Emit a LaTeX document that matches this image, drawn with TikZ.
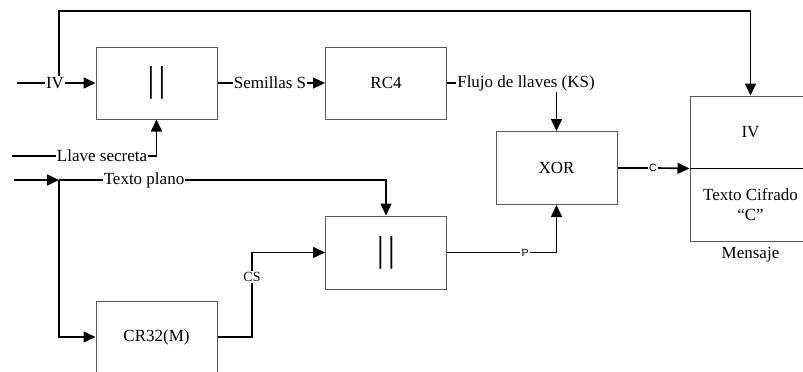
\documentclass[tikz,border=0pt]{standalone}
\usepackage{fontspec}
\setmainfont{Liberation Serif}
\setsansfont{Liberation Sans}
\usetikzlibrary{arrows.meta}
\begin{document}
\begin{tikzpicture}[x=1pt,y=-1pt,
  box/.style={draw=black!65, line width=1pt, minimum width=121pt, minimum height=72pt, inner sep=0pt, align=center, font=\fontsize{17}{20}\selectfont},
  conn/.style={line width=1.6pt, black},
  arr/.style={conn, -{Triangle[length=12pt,width=11pt]}},
  lbl/.style={inner sep=1pt, font=\fontsize{17}{20}\selectfont},
  slbl/.style={inner sep=1pt, font=\sffamily\fontsize{10.5}{12}\selectfont},
  bars/.style={font=\fontsize{36}{36}\selectfont, inner sep=0pt}]
\useasboundingbox (0,0) rectangle (803,372);
% boxes
\node[box] (b1) at (156.5,83) {};
\node[bars] (bars1) at (b1.center) {|\kern3.8pt|};
\node[box] (rc4) at (386,83) {RC4};
\node[box, minimum height=73pt] (xor) at (556.5,168) {XOR};
\node[box, minimum height=73pt] (b3) at (386,252.5) {};
\node[bars] (bars3) at (b3.center) {|\kern3.8pt|};
\node[box] (crc) at (156.5,337) {CR32(M)};
\node[box] (msgtop) at (750.5,132) {IV};
\node[box, minimum height=73pt] (msgbot) at (750.5,204.5) {Texto Cifrado\\``C''};
\node[lbl] (mens) at (750.5,255) {Mensaje};
% labels
\node[lbl] (ivl) at (55,83) {IV};
\node[lbl] (seml) at (270,83) {Semillas S};
\node[lbl] (flujo) at (526,83) {Flujo de llaves (KS)};
\node[lbl] (llave) at (102,156) {Llave secreta};
\node[lbl] (tp) at (144,180) {Texto plano};
\node[lbl, font=\fontsize{14}{16}\selectfont] (csl) at (252,277) {CS};
\node[slbl] (pl) at (525,252.5) {P};
\node[slbl] (cl) at (653,168) {C};
% coordinates
\coordinate (ivin) at (17,83);
\coordinate (top) at (59,11);
\coordinate (kin) at (12,156);
\coordinate (tin) at (14,180);
\coordinate (j) at (59,180);
% connectors
\draw[conn] (ivin) -- (ivl.west);
\draw[arr] (ivl.east) -- (b1.west);
\draw[arr] (ivl.north -| top) -- (top) -| (msgtop.north);
\draw[conn] (b1.east) -- (seml.west);
\draw[arr] (seml.east) -- (rc4.west);
\draw[conn] (rc4.east) -- (flujo.west);
\draw[arr] (flujo.south -| xor.north) -- (xor.north);
\draw[conn] (kin) -- (llave.west);
\draw[arr] (llave.east) -| (b1.south);
\draw[arr] (tin) -- (j);
\draw[conn] (j) -- (tp.west);
\draw[arr] (tp.east) -| (b3.north);
\draw[arr] (j) |- (crc.west);
\draw[conn] (crc.east) -| (csl.south);
\draw[arr] (csl.north) |- (b3.west);
\draw[conn] (b3.east) -- (pl.west);
\draw[arr] (pl.east) -| (xor.south);
\draw[conn] (xor.east) -- (cl.west);
\draw[arr] (cl.east) -- (msgtop.south west);
\draw[conn] (msgtop.south west) -- (msgtop.south east);
\end{tikzpicture}
\end{document}
